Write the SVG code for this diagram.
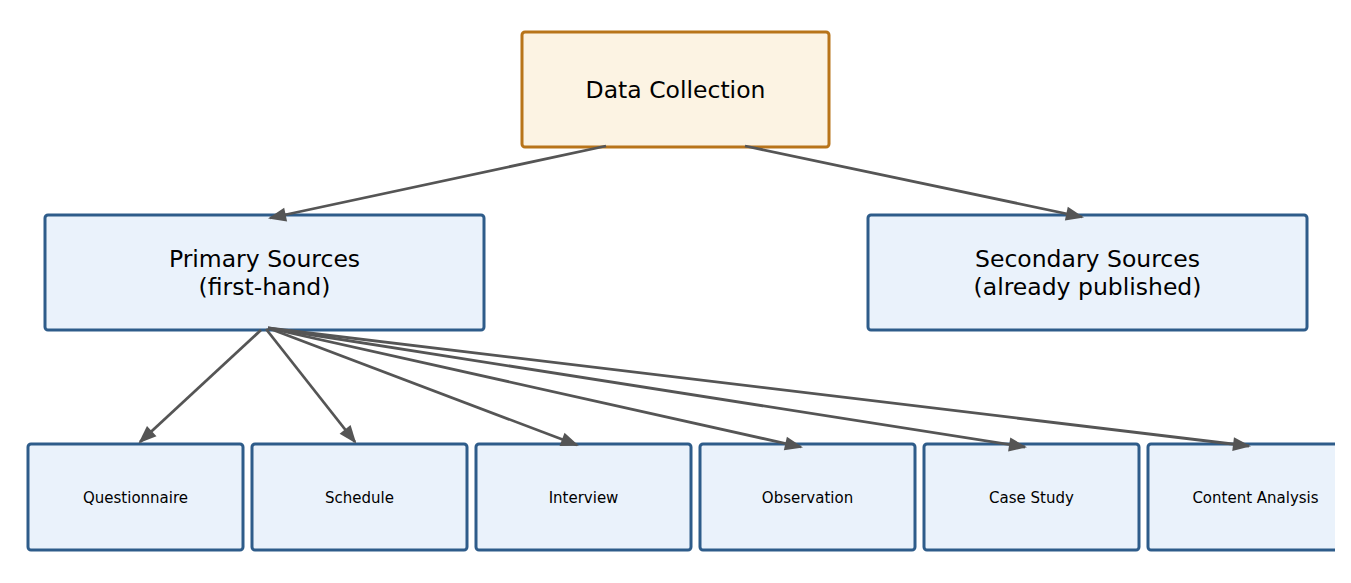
<svg xmlns="http://www.w3.org/2000/svg" width="1351" height="583" viewBox="0 0 1351 583">
<style>
.box{fill:#eaf2fb;stroke:#2e5c8a;stroke-width:3}
.root{fill:#fcf3e3;stroke:#b8741a;stroke-width:3}
.t{font-family:"DejaVu Sans",sans-serif;fill:#000;text-anchor:middle}
.big{font-size:23.5px}
.small{font-size:15px}
.edge{stroke:#555;stroke-width:2.8;fill:none;marker-end:url(#arr)}
</style>
<defs>
<marker id="arr" markerUnits="userSpaceOnUse" viewBox="0 0 18 14" markerWidth="18" markerHeight="14" refX="16" refY="7" orient="auto" overflow="visible">
<path d="M0,0 L18,7 L0,14 z" fill="#555"/>
</marker>
<clipPath id="clip"><rect x="0" y="0" width="1335" height="583"/></clipPath>
</defs>
<rect width="1351" height="583" fill="#fff"/>
<g clip-path="url(#clip)">
<g id="data-collection">
<rect class="root" x="522" y="32" width="307" height="115" rx="3"/>
<text class="t big" x="675.5" y="98">Data Collection</text>
</g>
<g id="primary">
<rect class="box" x="45" y="215" width="439" height="115" rx="3"/>
<text class="t big" x="264.5" y="267">Primary Sources</text>
<text class="t big" x="264.5" y="295">(first-hand)</text>
</g>
<g id="secondary">
<rect class="box" x="868" y="215" width="439" height="115" rx="3"/>
<text class="t big" x="1087.5" y="267">Secondary Sources</text>
<text class="t big" x="1087.5" y="295">(already published)</text>
</g>
<g id="questionnaire">
<rect class="box" x="28" y="444" width="215" height="106" rx="3"/>
<text class="t small" x="135.5" y="503">Questionnaire</text>
</g>
<g id="schedule">
<rect class="box" x="252" y="444" width="215" height="106" rx="3"/>
<text class="t small" x="359.5" y="503">Schedule</text>
</g>
<g id="interview">
<rect class="box" x="476" y="444" width="215" height="106" rx="3"/>
<text class="t small" x="583.5" y="503">Interview</text>
</g>
<g id="observation">
<rect class="box" x="700" y="444" width="215" height="106" rx="3"/>
<text class="t small" x="807.5" y="503">Observation</text>
</g>
<g id="case-study">
<rect class="box" x="924" y="444" width="215" height="106" rx="3"/>
<text class="t small" x="1031.5" y="503">Case Study</text>
</g>
<g id="content-analysis">
<rect class="box" x="1148" y="444" width="215" height="106" rx="3"/>
<text class="t small" x="1255.5" y="503">Content Analysis</text>
</g>
<g id="connectors">
<line class="edge" x1="606" y1="146" x2="270" y2="218"/>
<line class="edge" x1="745" y1="146" x2="1082" y2="217"/>
<line class="edge" x1="261" y1="330" x2="140" y2="442"/>
<line class="edge" x1="266" y1="329" x2="355" y2="442"/>
<line class="edge" x1="268" y1="328" x2="577" y2="445"/>
<line class="edge" x1="268" y1="328" x2="801" y2="447"/>
<line class="edge" x1="268" y1="328" x2="1025" y2="447"/>
<line class="edge" x1="268" y1="328" x2="1249" y2="446"/>
</g>
</g>
</svg>
